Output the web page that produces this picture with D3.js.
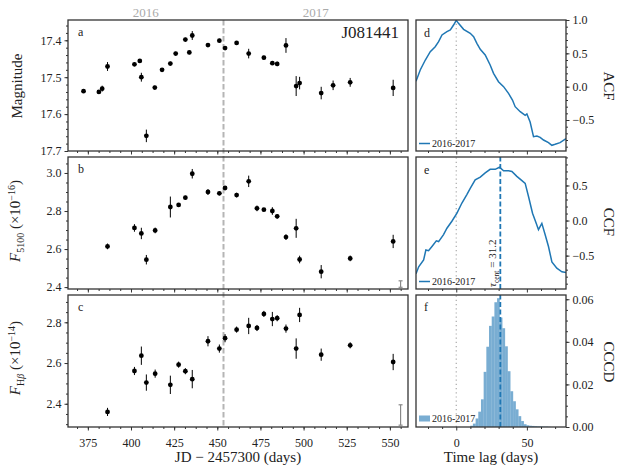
<!DOCTYPE html>
<html><head><meta charset="utf-8">
<script src="https://cdn.jsdelivr.net/npm/d3@7"></script>
<style>body{margin:0;background:#fff}svg{display:block}</style>
</head><body>
<svg id="chart" width="622" height="476"></svg>
<script>
// ---------- DATA ----------
const jdPhot = [372.5, 381.4, 383.3, 386.4, 402.0, 405.1, 406.0, 408.9, 413.8, 418.0, 422.8, 425.9, 431.5, 433.8, 435.5, 444.6, 451.2, 454.5, 461.2, 468.2, 477.0, 481.9, 484.7, 489.8, 495.7, 497.7, 510.2, 517.1, 527.0, 551.9];
const magPhot = [17.538, 17.540, 17.531, 17.471, 17.465, 17.456, 17.500, 17.659, 17.528, 17.480, 17.463, 17.436, 17.398, 17.433, 17.387, 17.413, 17.401, 17.421, 17.407, 17.436, 17.447, 17.462, 17.464, 17.414, 17.524, 17.516, 17.543, 17.522, 17.514, 17.529];
const magErr = [0.004, 0.005, 0.008, 0.012, 0.005, 0.005, 0.012, 0.017, 0.005, 0.005, 0.005, 0.005, 0.005, 0.005, 0.012, 0.005, 0.005, 0.005, 0.005, 0.013, 0.005, 0.005, 0.006, 0.020, 0.027, 0.017, 0.017, 0.013, 0.012, 0.022];

const jdSpec = [386.4, 402.0, 406.0, 408.9, 414.0, 422.8, 427.6, 431.5, 435.5, 444.6, 451.2, 454.5, 461.2, 468.2, 473.0, 477.0, 481.9, 484.7, 489.8, 495.7, 497.7, 510.2, 527.0, 551.9];
const f5100 = [2.614, 2.711, 2.682, 2.544, 2.698, 2.821, 2.832, 2.870, 2.996, 2.900, 2.893, 2.921, 2.884, 2.956, 2.814, 2.807, 2.800, 2.772, 2.663, 2.709, 2.545, 2.481, 2.551, 2.640];
const f5100Err = [0.015, 0.020, 0.030, 0.025, 0.015, 0.055, 0.010, 0.010, 0.025, 0.015, 0.010, 0.010, 0.012, 0.030, 0.015, 0.008, 0.020, 0.012, 0.015, 0.050, 0.020, 0.035, 0.015, 0.035];
const fHb = [2.360, 2.561, 2.636, 2.504, 2.548, 2.493, 2.592, 2.560, 2.521, 2.707, 2.671, 2.722, 2.764, 2.782, 2.772, 2.841, 2.816, 2.820, 2.769, 2.671, 2.836, 2.641, 2.687, 2.605];
const fHbErr = [0.020, 0.020, 0.045, 0.040, 0.020, 0.045, 0.015, 0.015, 0.045, 0.025, 0.020, 0.020, 0.015, 0.040, 0.015, 0.015, 0.035, 0.015, 0.020, 0.050, 0.035, 0.030, 0.015, 0.040];
const meanErr5100 = 0.017, meanErrHb = 0.05;

const acfLag = [-28.5, -25.5, -21.9, -18.4, -14.9, -12.5, -10.1, -6.6, -4.2, -1.9, 0, 1.6, 5.2, 9.9, 12.3, 14.6, 17.0, 20.5, 24.0, 26.4, 29.9, 33.5, 37.0, 39.8, 41.7, 45.3, 48.8, 50.0, 52.3, 54.7, 57.1, 59.4, 61.8, 65.3, 67.7, 70.0, 73.5, 77.7];
const acf = [0.08, 0.25, 0.40, 0.525, 0.60, 0.675, 0.775, 0.825, 0.85, 0.925, 0.995, 0.95, 0.86, 0.80, 0.75, 0.65, 0.56, 0.475, 0.325, 0.20, 0.075, 0.0, -0.10, -0.20, -0.30, -0.375, -0.43, -0.41, -0.53, -0.75, -0.74, -0.76, -0.80, -0.84, -0.88, -0.865, -0.84, -0.78];

const ccfLag = [-28.5, -26.6, -23.1, -21.5, -19.6, -17.2, -14.1, -12.5, -9.0, -6.6, -3.1, 0.5, 4.0, 7.5, 9.9, 13.4, 17.0, 20.5, 24.0, 27.6, 30.6, 33.5, 37.0, 39.4, 42.9, 46.5, 48.8, 51.2, 54.0, 56.6, 58.2, 60.6, 62.9, 65.3, 67.7, 71.2, 74.8, 77.7];
const ccf = [-0.76, -0.66, -0.56, -0.42, -0.43, -0.37, -0.29, -0.30, -0.20, -0.11, -0.01, 0.105, 0.25, 0.37, 0.46, 0.58, 0.62, 0.68, 0.73, 0.73, 0.76, 0.71, 0.71, 0.70, 0.63, 0.57, 0.53, 0.34, 0.105, -0.04, -0.13, -0.04, -0.20, -0.37, -0.59, -0.68, -0.73, -0.74];
const tauCent = 31.2;

const cccdBinLeft = [9.9, 11.8, 13.7, 15.6, 17.5, 19.4, 21.3, 23.2, 25.1, 27.0, 28.9, 30.8, 32.7, 34.6, 36.5, 38.4, 40.3, 42.2, 44.1, 46.0, 47.9, 49.8, 51.7, 53.6, 55.5, 57.4, 59.3, 61.2, 63.1, 65.0];
const cccdBinWidth = 1.9;
const cccd = [0.0006, 0.0016, 0.0040, 0.0072, 0.0130, 0.0259, 0.0377, 0.0475, 0.0519, 0.0586, 0.0605, 0.0514, 0.0464, 0.0379, 0.0262, 0.0168, 0.0121, 0.0083, 0.0051, 0.0028, 0.0013, 0.0008, 0.0006, 0.0005, 0.0004, 0.0003, 0.0003, 0.0002, 0.0002, 0.0001];

const seasonSplit = 453.6;
const yearLabels = ["2016", "2017"];
const yearLabelJD = [408.6, 507.0];
const legendLabel = "2016-2017";

// ---------- LAYOUT ----------
const svg = d3.select("#chart");
const FONT = "'Liberation Serif', 'DejaVu Serif', serif";
const SPINE = "#333";
const BLUE = "#1f77b4";
const L = [68, 408], R = [416, 566];
const rows = [[20, 151], [157, 289], [295, 427]];

const xL = d3.scaleLinear().domain([363.5, 560.5]).range(L);
const xR = d3.scaleLinear().domain([-28.5, 77.7]).range(R);
const yA = d3.scaleLinear().domain([17.345, 17.70]).range([rows[0][0], rows[0][1]]);
const yB = d3.scaleLinear().domain([2.39, 3.084]).range([rows[1][1], rows[1][0]]);
const yC = d3.scaleLinear().domain([2.286, 2.934]).range([rows[2][1], rows[2][0]]);
const yD = d3.scaleLinear().domain([-0.965, 1.0]).range([rows[0][1], rows[0][0]]);
const yE = d3.scaleLinear().domain([-0.976, 0.906]).range([rows[1][1], rows[1][0]]);
const yF = d3.scaleLinear().domain([0, 0.062]).range([rows[2][1], rows[2][0]]);

function range(a, b, s) { const o = []; for (let v = a; v <= b + 1e-9; v += s) o.push(+v.toFixed(6)); return o; }

function styleAxis(g) {
  g.select(".domain").remove();
  g.selectAll(".tick line").attr("stroke", SPINE).attr("stroke-width", 1);
  g.selectAll(".tick text").attr("font-family", FONT).attr("font-size", 12).attr("fill", "#222");
}

function drawAxes(x, y, xTicks, xMinor, yTicks, yMinor, yFmt, ySide, xLabels) {
  const [x0, x1] = x.range();
  const [yb, yt] = y.range()[0] > y.range()[1] ? y.range() : [y.range()[1], y.range()[0]];
  // bottom ticks
  const gb = svg.append("g").attr("transform", `translate(0,${yb})`);
  gb.call(d3.axisBottom(x).tickValues(xMinor).tickSize(2).tickFormat("")).call(styleAxis);
  const gb2 = svg.append("g").attr("transform", `translate(0,${yb})`);
  gb2.call(d3.axisBottom(x).tickValues(xTicks).tickSize(3.5).tickPadding(8)
    .tickFormat(xLabels ? d3.format("d") : "")).call(styleAxis);
  // y ticks
  const xs = ySide === "left" ? x0 : x1;
  const ax = ySide === "left" ? d3.axisLeft : d3.axisRight;
  const gy = svg.append("g").attr("transform", `translate(${xs},0)`);
  gy.call(ax(y).tickValues(yMinor).tickSize(2).tickFormat("")).call(styleAxis);
  const gy2 = svg.append("g").attr("transform", `translate(${xs},0)`);
  gy2.call(ax(y).tickValues(yTicks).tickSize(3.5).tickPadding(3).tickFormat(d3.format(yFmt))).call(styleAxis);
  // frame
  svg.append("rect").attr("x", x0).attr("y", yt).attr("width", x1 - x0).attr("height", yb - yt)
    .attr("fill", "none").attr("stroke", SPINE).attr("stroke-width", 1.3);
}

function clipFor(id, x, y) {
  const [x0, x1] = x.range();
  const ys = y.range();
  svg.append("clipPath").attr("id", id).append("rect")
    .attr("x", x0).attr("y", Math.min(...ys)).attr("width", x1 - x0).attr("height", Math.abs(ys[1] - ys[0]));
}

// ---------- LEFT PANELS ----------
const xMajL = range(375, 550, 25);
const xMinL = range(368.75, 556.25, 6.25);

// season split dashed line (spans all three panels)
svg.append("line").attr("x1", xL(seasonSplit)).attr("x2", xL(seasonSplit))
  .attr("y1", rows[0][0]).attr("y2", rows[2][1])
  .attr("stroke", "#b5b5b5").attr("stroke-width", 2).attr("stroke-dasharray", "5.5,2.5");

function errPoints(xs, ys, es, y) {
  const g = svg.append("g");
  xs.forEach((xv, i) => {
    g.append("line").attr("x1", xL(xv)).attr("x2", xL(xv))
      .attr("y1", y(ys[i] - es[i])).attr("y2", y(ys[i] + es[i]))
      .attr("stroke", "#000").attr("stroke-width", 1);
    g.append("circle").attr("cx", xL(xv)).attr("cy", y(ys[i])).attr("r", 2.4).attr("fill", "#000");
  });
}
errPoints(jdPhot, magPhot, magErr, yA);
errPoints(jdSpec, f5100, f5100Err, yB);
errPoints(jdSpec, fHb, fHbErr, yC);

drawAxes(xL, yA, xMajL, xMinL, [17.4, 17.5, 17.6, 17.7], range(17.36, 17.70, 0.02), ".1f", "left", false);
drawAxes(xL, yB, xMajL, xMinL, [2.4, 2.6, 2.8, 3.0], range(2.40, 3.05, 0.05), ".1f", "left", false);
drawAxes(xL, yC, xMajL, xMinL, [2.4, 2.6, 2.8], range(2.30, 2.90, 0.05), ".1f", "left", true);

// mean error bars (gray)
function meanErr(y, yc, e) {
  const xp = xL(556.2);
  const g = svg.append("g").attr("stroke", "#888").attr("stroke-width", 1.2);
  g.append("line").attr("x1", xp).attr("x2", xp).attr("y1", y(yc - e)).attr("y2", y(yc + e));
  [yc - e, yc + e].forEach(v => g.append("line").attr("x1", xp - 2).attr("x2", xp + 2).attr("y1", y(v)).attr("y2", y(v)));
}
meanErr(yB, 2.416, meanErr5100);
meanErr(yC, 2.345, meanErrHb);

// year labels
yearLabels.forEach((t, i) => svg.append("text").attr("x", xL(yearLabelJD[i])).attr("y", 16.5)
  .attr("text-anchor", "middle").attr("font-family", FONT).attr("font-size", 13)
  .attr("fill", "#aaa").text(t));

// panel letters
function letter(t, x, y) {
  svg.append("text").attr("x", x).attr("y", y).attr("font-family", FONT).attr("font-size", 12)
    .attr("fill", "#222").text(t);
}
letter("a", 78, 36); letter("b", 78, 173); letter("c", 78, 311);
letter("d", 424, 37); letter("e", 424, 174); letter("f", 424, 311);

svg.append("text").attr("x", 399).attr("y", 38).attr("text-anchor", "end")
  .attr("font-family", FONT).attr("font-size", 17).attr("fill", "#222").text("J081441");

// y labels left
svg.append("text").attr("transform", "translate(21.5,86) rotate(-90)").attr("text-anchor", "middle")
  .attr("font-family", FONT).attr("font-size", 15).attr("fill", "#222").text("Magnitude");

function fluxLabel(cx, cy, sub, exp) {
  const t = svg.append("text").attr("transform", `translate(${cx},${cy}) rotate(-90)`)
    .attr("text-anchor", "middle").attr("font-family", FONT).attr("font-size", 15).attr("fill", "#222");
  t.append("tspan").attr("font-style", "italic").text("F");
  sub(t);
  t.append("tspan").attr("dy", -4).text(" (×10");
  t.append("tspan").attr("dy", -5).attr("font-size", 10).text(exp);
  t.append("tspan").attr("dy", 5).text(")");
}
fluxLabel(19.5, 221, t => t.append("tspan").attr("dy", 4).attr("font-size", 10).text("5100"), "−16");
fluxLabel(19.5, 358, t => {
  t.append("tspan").attr("dy", 4).attr("font-size", 10).text("H");
  t.append("tspan").attr("font-size", 10).attr("font-style", "italic").text("β");
}, "−14");

svg.append("text").attr("x", 238).attr("y", 462).attr("text-anchor", "middle")
  .attr("font-family", FONT).attr("font-size", 15).attr("fill", "#222").text("JD  −  2457300 (days)");

// ---------- RIGHT PANELS ----------
const xMajR = [0, 50];
const xMinR = [-20, -10, 10, 20, 30, 40, 60, 70];

// zero-lag dotted lines
[yD, yE, yF].forEach(y => {
  const ys = y.range();
  svg.append("line").attr("x1", xR(0)).attr("x2", xR(0)).attr("y1", ys[0]).attr("y2", ys[1])
    .attr("stroke", "#aaa").attr("stroke-width", 1.2).attr("stroke-dasharray", "1.2,3");
});

clipFor("cd", xR, yD); clipFor("ce", xR, yE); clipFor("cf", xR, yF);

const acfLine = d3.line().x((d, i) => xR(acfLag[i])).y(d => yD(d));
svg.append("path").datum(acf).attr("d", acfLine).attr("fill", "none").attr("stroke", BLUE)
  .attr("stroke-width", 1.5).attr("clip-path", "url(#cd)");

const ccfLine = d3.line().x((d, i) => xR(ccfLag[i])).y(d => yE(d));
svg.append("path").datum(ccf).attr("d", ccfLine).attr("fill", "none").attr("stroke", BLUE)
  .attr("stroke-width", 1.5).attr("clip-path", "url(#ce)");

svg.append("g").attr("clip-path", "url(#cf)").selectAll("rect").data(cccd).join("rect")
  .attr("x", (d, i) => xR(cccdBinLeft[i]))
  .attr("width", (d, i) => xR(cccdBinLeft[i] + cccdBinWidth) - xR(cccdBinLeft[i]))
  .attr("y", d => yF(d)).attr("height", d => yF(0) - yF(d))
  .attr("fill", BLUE).attr("fill-opacity", 0.6);

// tau_cent dashed lines
[yE, yF].forEach(y => {
  const ys = y.range();
  svg.append("line").attr("x1", xR(tauCent)).attr("x2", xR(tauCent)).attr("y1", ys[0]).attr("y2", ys[1])
    .attr("stroke", BLUE).attr("stroke-width", 1.8).attr("stroke-dasharray", "5,2.5");
});
const tt = svg.append("text").attr("transform", `translate(${xR(tauCent) - 4},287) rotate(-90)`)
  .attr("font-family", FONT).attr("font-size", 11).attr("fill", "#222");
tt.append("tspan").attr("font-style", "italic").text("τ");
tt.append("tspan").attr("dy", 2.5).attr("font-size", 7.5).text("cent");
tt.append("tspan").attr("dy", -2.5).text(" = 31.2");

drawAxes(xR, yD, xMajR, xMinR, [-0.5, 0, 0.5, 1.0], range(-0.9, 1.0, 0.1), ".1f", "right", false);
drawAxes(xR, yE, xMajR, xMinR, [-0.5, 0, 0.5], range(-0.9, 0.9, 0.1), ".1f", "right", false);
drawAxes(xR, yF, xMajR, xMinR, [0, 0.02, 0.04, 0.06], range(0, 0.06, 0.005), ".2f", "right", true);

// legends
function legendLine(y) {
  svg.append("line").attr("x1", 419).attr("x2", 430).attr("y1", y).attr("y2", y)
    .attr("stroke", BLUE).attr("stroke-width", 1.5);
  svg.append("text").attr("x", 432).attr("y", y + 3.5).attr("font-family", FONT).attr("font-size", 10)
    .attr("fill", "#222").text(legendLabel);
}
legendLine(143.5); legendLine(281.5);
svg.append("rect").attr("x", 419).attr("y", 415.5).attr("width", 11).attr("height", 6)
  .attr("fill", BLUE).attr("fill-opacity", 0.6);
svg.append("text").attr("x", 432).attr("y", 422).attr("font-family", FONT).attr("font-size", 10)
  .attr("fill", "#222").text(legendLabel);

// right labels
[["ACF", 86], ["CCF", 222], ["CCCD", 362]].forEach(([t, cy]) =>
  svg.append("text").attr("transform", `translate(604,${cy}) rotate(90)`).attr("text-anchor", "middle")
    .attr("font-family", FONT).attr("font-size", 15).attr("fill", "#222").text(t));

svg.append("text").attr("x", 491).attr("y", 462).attr("text-anchor", "middle")
  .attr("font-family", FONT).attr("font-size", 15).attr("fill", "#222").text("Time lag (days)");
</script>
</body></html>
